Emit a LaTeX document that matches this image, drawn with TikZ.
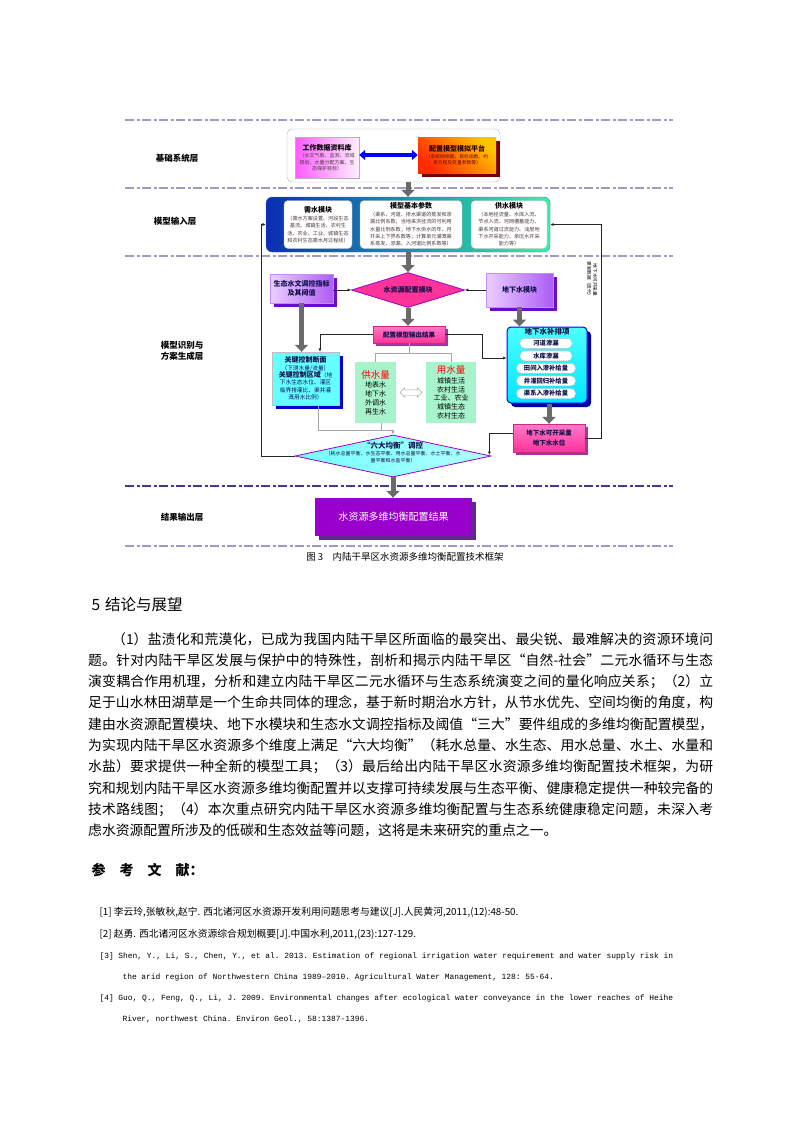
\documentclass[tikz,border=0pt]{standalone}
\usepackage{fontspec}
\setmainfont{Noto Sans CJK SC}
\newfontfamily\refmono{Liberation Mono}
\usetikzlibrary{positioning,arrows.meta,calc,shapes.geometric,shapes.arrows,shadows}
\XeTeXlinebreaklocale "zh"
\XeTeXlinebreakskip=0pt plus 1.5pt
\definecolor{sepcol}{HTML}{9C9CC4}
\definecolor{sepdark}{HTML}{3B3B8F}
\definecolor{arrowgray}{HTML}{6A6A6A}
\definecolor{lavlt}{HTML}{EBCFFF}
\definecolor{lavdk}{HTML}{AE5CF5}
\definecolor{lavshd}{HTML}{6A0DC8}
\definecolor{hotpink}{HTML}{FF3399}
\definecolor{pinklt}{HTML}{FF7ACC}
\definecolor{pinkshd}{HTML}{9B3A9B}
\definecolor{aquabox}{HTML}{66FFFF}
\definecolor{deepblue}{HTML}{0000CC}
\definecolor{mintfill}{HTML}{A6F3CC}
\definecolor{violetres}{HTML}{9900CC}
\definecolor{violetshd}{HTML}{5F2A8A}
\definecolor{navytxt}{HTML}{10104A}
\definecolor{subbrown}{HTML}{4A3A3A}
\definecolor{inpleft}{HTML}{0A2DB4}
\definecolor{inpmid}{HTML}{0A92C4}
\definecolor{inpright}{HTML}{30F7A2}
\definecolor{platred}{HTML}{FF2A00}
\definecolor{platyel}{HTML}{FFC400}
\definecolor{platshd}{HTML}{7A0000}
\newcommand{\boxtitle}{\bfseries\fontsize{7}{9}\selectfont}
\tikzset{
  seprule/.style={draw=sepcol, line width=1.2pt, dash pattern=on 9pt off 2.5pt on 3pt off 2.5pt},
  layerlbl/.style={font=\bfseries\fontsize{8.5}{11}\selectfont, align=center},
  blockarr/.style={draw=arrowgray, line width=5pt, -{Triangle[width=13pt,length=7pt]}},
  thinarr/.style={draw=black!85, line width=0.6pt, -{Latex[length=3.5pt,width=3pt]}},
  greyline/.style={draw=gray!70, line width=0.6pt},
  smalltxt/.style={font=\fontsize{5.1}{7.3}\selectfont, text=subbrown},
  databox/.style={draw=gray!60, left color=magenta!65, right color=magenta!6, minimum width=64, minimum height=41, inner sep=1pt, align=center,
    font=\fontsize{5}{6.5}\selectfont, text=subbrown},
  platbox/.style={left color=platred, right color=platyel, shading angle=135, minimum width=78, minimum height=36, inner sep=1pt, align=center,
    font=\fontsize{4.8}{6.2}\selectfont, text=red!45!black,
    drop shadow={shadow xshift=4pt, shadow yshift=-4pt, fill=platshd, opacity=1}},
  whitecard/.style={fill=white, draw=gray!60, rounded corners=4pt, minimum height=48, inner sep=1pt, align=center, smalltxt},
  purplebox/.style={left color=lavlt, right color=lavdk, draw=lavdk!70, inner sep=0, align=center, text=navytxt,
    font=\bfseries\fontsize{7}{9}\selectfont, drop shadow={shadow xshift=4pt, shadow yshift=-4pt, fill=lavshd, opacity=1}},
  pinkbox/.style={top color=pinklt, bottom color=hotpink, draw=hotpink!80!black, inner sep=0, align=center, text=navytxt,
    font=\bfseries\fontsize{6.5}{8}\selectfont, drop shadow={shadow xshift=3pt, shadow yshift=-3pt, fill=pinkshd, opacity=1}},
  mintbox/.style={fill=mintfill, inner sep=0, align=center, font=\fontsize{7}{8.8}\selectfont},
  pillbox/.style={fill=white, draw=gray!50, rounded corners=4.5pt, minimum height=10, inner sep=0, text=navytxt,
    font=\bfseries\fontsize{6.3}{7}\selectfont},
}
\begin{document}
\begin{tikzpicture}[x=1pt, y=-1pt]
\fill[white] (0,0) rectangle (793,1122);
\useasboundingbox (0,0) rectangle (793,1122);

% layers
\foreach \yy in {120,188,256,546} \draw[seprule] (125,\yy) -- (673,\yy);
\draw[seprule, draw=sepdark] (125,486) -- (673,486);
\node[layerlbl] (lbbase) at (177,158) {基础系统层};
\node[layerlbl] (lbinput) at (175,221) {模型输入层};
\node[layerlbl] (lbident) at (182,351) {模型识别与\\方案生成层};
\node[layerlbl] (lbresult) at (182,517) {结果输出层};

% base system
\node[draw=gray!60, rounded corners=5pt, minimum width=213, minimum height=53, inner sep=0] (basebox) at (393.5,155.5) {};
\node[databox] (workdb) at (327,157.5) {{\boxtitle\color{black} 工作数据资料库}\\[1pt]（水文气象、监测、流域\\规划、水量分配方案、生\\态保护目标）};
\node[platbox] (platform) at (457,155) {{\boxtitle\color{black!85!red} 配置模型模拟平台}\\[1pt]（系统网络图、目标函数、约\\束方程及变量参数等）};
\draw[blue, line width=3.5pt, {Triangle[width=10pt,length=6pt]}-{Triangle[width=10pt,length=6pt]}] (platform.west -| workdb.east) -- (platform.west);

% model input
\node[draw=inpleft!70, rounded corners=6pt, left color=inpleft, middle color=inpmid, right color=inpright, minimum width=284, minimum height=55, inner sep=0] (inp) at (408,224.5) {};
\node[whitecard, minimum width=68] (demand) at (318,224.5) {{\boxtitle\color{black} 需水模块}\\[1pt]（需水方案设置、河段生态\\基流、城镇生活、农村生\\活、农业、工业、城镇生态\\和农村生态需水月过程线）};
\node[whitecard, minimum width=102] (params) at (411,224.5) {{\boxtitle\color{black} 模型基本参数}\\[0.5pt]（渠系、河道、排水渠道的蒸发和渗\\漏比例系数；当地来洪径流的可利用\\水量比例系数；地下水供水的年、月\\开采上下界系数等；计算单元灌溉渠\\系蒸发、渗漏、入河道比例系数等）};
\node[whitecard, minimum width=76] (supplymod) at (509,224.5) {{\boxtitle\color{black} 供水模块}\\[0.5pt]（本地径流量、水库入流、\\节点入流、河网槽蓄能力、\\渠系河道过流能力、浅层地\\下水开采能力、承压水开采\\能力等）};

% identification and scheme generation
\node[purplebox, minimum width=63, minimum height=29] (ecoidx) at (301.5,288.5) {生态水文调控指标\\及其阈值};
\node[diamond, aspect=3.2, minimum width=113, minimum height=35, inner sep=0, draw=violetres, line width=0.8pt,
  left color=hotpink, middle color=pink!40, right color=hotpink, text=navytxt, font=\bfseries\fontsize{7}{9}\selectfont] (alloc) at (408,290) {水资源配置模块};
\node[purplebox, minimum width=67, minimum height=34] (gwmod) at (519.5,290) {地下水模块};
\node[pinkbox, minimum width=72, minimum height=17] (outres) at (409,334.5) {配置模型输出结果};
\node[draw=blue, line width=1pt, rounded corners=4pt, top color=cyan!70, bottom color=cyan!90!blue, minimum width=80, minimum height=76,
  drop shadow={shadow xshift=4pt, shadow yshift=-4pt, fill=deepblue!80!black, opacity=1}] (gwbal) at (547,365) {};
\node[text=navytxt, font=\bfseries\fontsize{7.5}{8}\selectfont] (gwbaltitle) at (547,332) {地下水补排项};
\foreach \t/\w/\yy [count=\i] in {河道渗漏/52/343.3, 水库渗漏/52/355.8, 田间入渗补给量/59/368.3, 井灌回归补给量/59/380.9, 渠系入渗补给量/59/393.5}
  \node[pillbox, minimum width=\w] (pill\i) at (546,\yy) {\t};
\node[fill=aquabox, draw=gray!50, minimum width=67, minimum height=53, inner sep=0, align=center, text=navytxt!80!blue,
  font=\fontsize{5.7}{7.4}\selectfont,
  drop shadow={shadow xshift=4pt, shadow yshift=-4pt, fill=deepblue, opacity=1}] (keysec) at (305.5,378.5)
  {{\bfseries\fontsize{7}{8.5}\selectfont\color{navytxt} 关键控制断面}\\（下泄水量/流量）\\{\bfseries\fontsize{7}{8.5}\selectfont\color{navytxt} 关键控制区域}（地\\下水生态水位、灌区\\临界排灌比、渠井灌\\溉用水比例）};
\node[mintbox, minimum width=41, minimum height=61] (supplyq) at (375.5,392.5) {\textcolor{red}{\fontsize{9.5}{11}\selectfont 供水量}\\[1pt]地表水\\地下水\\外调水\\再生水};
\node[mintbox, minimum width=50, minimum height=61] (useq) at (451,392.5) {\textcolor{red}{\fontsize{9.5}{11}\selectfont 用水量}\\[0.5pt]城镇生活\\农村生活\\工业、农业\\城镇生态\\农村生态};
\node[double arrow, double arrow head extend=2pt, inner xsep=0, inner ysep=2.5pt, minimum height=22, draw=gray!70, fill=white] (swap) at ($(supplyq.east)!0.5!(useq.west)$) {};
\node[pinkbox, minimum width=72, minimum height=28] (gwlim) at (549,438) {地下水可开采量\\[2pt]地下水水位};
\node[diamond, minimum width=196, minimum height=42, inner sep=0, draw=violetres, line width=0.8pt,
  left color=cyan!55, middle color=white, right color=cyan!30] (sixbal) at (393,456) {};
\node[align=center, text=navytxt, font=\fontsize{5}{6.5}\selectfont] (sixtxt) at ([yshift=4pt]sixbal.center) {{\bfseries\fontsize{7.5}{9}\selectfont “六大均衡”调控}\\[1pt]（耗水总量平衡、水生态平衡、用水总量平衡、水土平衡、水\\量平衡和水盐平衡）};
\node[rotate=-90, align=center, font=\fontsize{4.6}{6}\selectfont] (updnote) at (592,280) {地下水可开采量\\更新数据（迭代）};

% result
\node[fill=violetres, minimum width=157, minimum height=38, text=white, font=\fontsize{10}{12}\selectfont,
  drop shadow={shadow xshift=4pt, shadow yshift=-4pt, fill=violetshd, opacity=1}] (final) at (393.5,517) {水资源多维均衡配置结果};

% connectors
\draw[blockarr] (basebox.south -| alloc.north) -- (inp.north -| alloc.north);
\draw[blockarr] (inp.south -| alloc.north) -- (alloc.north);
\draw[blockarr] (alloc.south) -- (outres.north -| alloc.south);
\draw[blockarr] (ecoidx.south) -- (ecoidx.south |- keysec.north);
\draw[blockarr] (gwmod.south) -- (gwmod.south |- gwbal.north);
\draw[blockarr] (gwbal.south -| gwlim.north) -- (gwlim.north);
\draw[blockarr] (sixbal.south) -- (final.north -| sixbal.south);
\draw[thinarr] (ecoidx.east |- alloc.west) -- (alloc.west);
\draw[thinarr] (gwmod.west) -- (alloc.east);
\draw[thinarr] (outres.west) -| ([xshift=14.5pt]keysec.north);
\draw[thinarr] (outres.east) -- ++(37,0) |- ([yshift=7pt]gwbal.west);
\draw[greyline] (outres.south) -- ++(0,10) coordinate (splitpt);
\draw[greyline] (supplyq.north) |- (splitpt) -| (useq.north);
\draw[greyline, -{Latex[length=3.5pt,width=3pt]}] ([xshift=12.5pt]keysec.south) -- ++(0,25) -| (sixbal.north);
\draw[greyline] ([xshift=6pt]supplyq.south) -- ++(0,7);
\draw[thinarr] ([yshift=5pt]gwlim.west) -| ([xshift=-2pt,yshift=1pt]sixbal.east);
\draw[thinarr] (gwlim.east) -- ++(16,0) |- (inp.east);
\draw[thinarr] (sixbal.west) -- ++(-33,0) |- (inp.west);

% caption and text
\node[font=\fontsize{9.5}{11}\selectfont] (caption) at (405,557) {图 3\quad 内陆干旱区水资源多维均衡配置技术框架};
\node[anchor=west, font=\fontsize{15.5}{18}\selectfont] (sechead) at (88,605) {5\hspace{5pt}结论与展望};
\node[anchor=north west, inner sep=0, text width=625pt, align=justify, font=\fontsize{13.8}{21.3}\selectfont] (bodytext) at (88,632)
{\hspace*{24pt}（1）盐渍化和荒漠化，已成为我国内陆干旱区所面临的最突出、最尖锐、最难解决的资源环境问\linebreak
题。针对内陆干旱区发展与保护中的特殊性，剖析和揭示内陆干旱区“自然-社会”二元水循环与生态\linebreak
演变耦合作用机理，分析和建立内陆干旱区二元水循环与生态系统演变之间的量化响应关系；（2）立\linebreak
足于山水林田湖草是一个生命共同体的理念，基于新时期治水方针，从节水优先、空间均衡的角度，构\linebreak
建由水资源配置模块、地下水模块和生态水文调控指标及阈值“三大”要件组成的多维均衡配置模型，\linebreak
为实现内陆干旱区水资源多个维度上满足“六大均衡”（耗水总量、水生态、用水总量、水土、水量和\linebreak
水盐）要求提供一种全新的模型工具；（3）最后给出内陆干旱区水资源多维均衡配置技术框架，为研\linebreak
究和规划内陆干旱区水资源多维均衡配置并以支撑可持续发展与生态平衡、健康稳定提供一种较完备的\linebreak
技术路线图；（4）本次重点研究内陆干旱区水资源多维均衡配置与生态系统健康稳定问题，未深入考\linebreak
虑水资源配置所涉及的低碳和生态效益等问题，这将是未来研究的重点之一。};
\node[anchor=west, font=\bfseries\fontsize{14}{16}\selectfont] (refhead) at (88,870) {参　考　文　献：};
\node[anchor=west, font=\fontsize{9.8}{11}\selectfont] (ref1) at (96,912) {[1] 李云玲,张敏秋,赵宁. 西北诸河区水资源开发利用问题思考与建议[J].人民黄河,2011,(12):48-50.};
\node[anchor=west, font=\fontsize{9.8}{11}\selectfont] (ref2) at (96,934) {[2] 赵勇. 西北诸河区水资源综合规划概要[J].中国水利,2011,(23):127-129.};
\node[anchor=west, font=\refmono\frenchspacing\fontsize{7.9}{10}\selectfont] (ref3a) at (96,956) {[3] Shen, Y., Li, S., Chen, Y., et al. 2013. Estimation of regional irrigation water requirement and water supply risk in};
\node[anchor=west, font=\refmono\frenchspacing\fontsize{7.9}{10}\selectfont] (ref3b) at (119,977) {the arid region of Northwestern China 1989–2010. Agricultural Water Management, 128: 55-64.};
\node[anchor=west, font=\refmono\frenchspacing\fontsize{7.9}{10}\selectfont] (ref4a) at (96,998) {[4] Guo, Q., Feng, Q., Li, J. 2009. Environmental changes after ecological water conveyance in the lower reaches of Heihe};
\node[anchor=west, font=\refmono\frenchspacing\fontsize{7.9}{10}\selectfont] (ref4b) at (119,1019) {River, northwest China. Environ Geol., 58:1387-1396.};
\end{tikzpicture}
\end{document}
